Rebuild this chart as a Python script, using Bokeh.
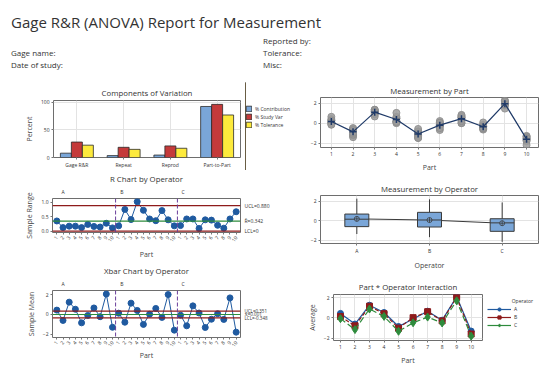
import numpy as np
from bokeh.plotting import figure
from bokeh.layouts import column, row
from bokeh.models import Div, Range1d, FixedTicker, LinearAxis, Legend, LegendItem, Span
from bokeh.embed import file_html
from bokeh.resources import INLINE

FONT = "Open Sans"
TXT = "#333333"

# ---------------- data ----------------
parts = [1, 2, 3, 4, 5, 6, 7, 8, 9, 10]
operators = ["A", "B", "C"]

A_trial1 = [0.29, -0.56, 1.34, 0.47, -0.80, 0.02, 0.59, -0.31, 2.26, -1.36]
A_trial2 = [0.41, -0.68, 1.17, 0.50, -0.92, -0.11, 0.75, -0.20, 1.99, -1.25]
A_trial3 = [0.64, -0.58, 1.27, 0.64, -0.84, -0.21, 0.66, -0.17, 2.01, -1.31]
B_trial1 = [0.08, -0.47, 1.19, 0.01, -0.56, -0.20, 0.47, -0.63, 1.80, -1.68]
B_trial2 = [0.25, -1.22, 0.94, 1.03, -1.20, 0.22, 0.55, 0.08, 2.12, -1.62]
B_trial3 = [0.07, -0.68, 1.34, 0.20, -1.28, 0.06, 0.83, -0.34, 2.19, -1.50]
C_trial1 = [0.04, -1.38, 0.88, 0.14, -1.46, -0.29, 0.02, -0.46, 1.77, -1.49]
C_trial2 = [-0.11, -1.13, 1.09, 0.20, -1.07, -0.67, 0.01, -0.56, 1.45, -1.77]
C_trial3 = [-0.15, -0.96, 0.67, 0.11, -1.45, -0.49, 0.21, -0.49, 1.87, -2.16]

components = ["Gage R&R", "Repeat", "Reprod", "Part-to-Part"]
pct_contribution = [7.8, 3.4, 4.4, 92.2]
pct_study_var = [27.9, 18.4, 20.9, 96.0]
pct_tolerance = [22.3, 14.7, 16.7, 76.8]

r_ucl, r_bar, r_lcl = 0.880, 0.342, 0.0
x_ucl, x_dbar, x_lcl = 0.351, 0.001, -0.348

meas = {"A": [A_trial1, A_trial2, A_trial3],
        "B": [B_trial1, B_trial2, B_trial3],
        "C": [C_trial1, C_trial2, C_trial3]}

# ---------------- colours ----------------
BLUE = "#7aa6d8"
RED = "#c43a3a"
YEL = "#fdea3c"
PT = "#1f5aa0"
LIMRED = "#8e1b1b"
CGREEN = "#2e8b3c"
PURP = "#6a3d9a"
GRID = "#e3e3e3"


def mkfig(w, h, l, r, t, b, xr, yr, title, standoff=3):
    p = figure(width=w, height=h, min_border_left=l, min_border_right=r,
               min_border_top=t, min_border_bottom=b, x_range=xr, y_range=yr,
               toolbar_location=None, output_backend="svg", title=title,
               frame_align=False)
    p.title.text_font = FONT
    p.title.text_font_size = "7.8px"
    p.title.text_font_style = "normal"
    p.title.text_color = TXT
    p.title.align = "center"
    p.title.standoff = standoff
    p.outline_line_color = "#6e6e6e"
    p.outline_line_width = 1
    p.grid.grid_line_color = GRID
    p.background_fill_color = "white"
    p.border_fill_color = "white"
    return p


def legend_fig(w, h):
    f = figure(width=w, height=h, min_border=0, x_range=Range1d(0, 1), y_range=Range1d(0, 1),
               toolbar_location=None, output_backend="svg", x_axis_type=None, y_axis_type=None,
               frame_align=False)
    f.outline_line_color = None
    f.background_fill_color = "white"
    f.border_fill_color = "white"
    return f


def style_axes(p):
    for ax in p.axis:
        ax.axis_line_color = None
        ax.major_tick_line_color = "#777777"
        ax.major_tick_out = 2
        ax.major_tick_in = 0
        ax.minor_tick_line_color = None
        ax.major_label_text_font = FONT
        ax.major_label_text_font_size = "5px"
        ax.major_label_text_color = TXT
        ax.major_label_standoff = 2
        ax.axis_label_text_font = FONT
        ax.axis_label_text_font_size = "7px"
        ax.axis_label_text_font_style = "normal"
        ax.axis_label_text_color = "#444444"
        ax.axis_label_standoff = 4


# ---------------- header ----------------
header = Div(width=551, height=72, text=f"""
<div style="position:relative;width:551px;height:72px;font-family:'{FONT}';color:#333;">
<div style="position:absolute;left:6px;top:8px;font-size:15px;line-height:18px;white-space:nowrap;">Gage R&amp;R (ANOVA) Report for Measurement</div>
<div style="position:absolute;left:258px;top:30px;font-size:8px;line-height:11px;">Reported by:</div>
<div style="position:absolute;left:6px;top:42px;font-size:8px;line-height:11px;">Gage name:</div>
<div style="position:absolute;left:258px;top:42px;font-size:8px;line-height:11px;">Tolerance:</div>
<div style="position:absolute;left:6px;top:54px;font-size:8px;line-height:11px;">Date of study:</div>
<div style="position:absolute;left:258px;top:54px;font-size:8px;line-height:11px;">Misc:</div>
</div>""")

# ---------------- derived per-operator stats ----------------
op_ranges = []
op_means = []
for op in operators:
    arr = np.array(meas[op])
    op_ranges.append(arr.max(axis=0) - arr.min(axis=0))
    op_means.append(arr.mean(axis=0))
samples = list(range(1, 31))
sample_labels = {s: str(parts[(s - 1) % 10]) for s in samples}

# ---------------- 1. Components of Variation ----------------
p1 = mkfig(245, 88, 53, 5, 18, 13, Range1d(0.5, 4.5), Range1d(0, 103), "Components of Variation", standoff=5)
gx = np.arange(1, len(components) + 1)
bw = 0.235
p1.vbar(x=gx - bw, top=pct_contribution, width=bw, fill_color=BLUE, line_color="#2a2a2a", line_width=0.8)
p1.vbar(x=gx, top=pct_study_var, width=bw, fill_color=RED, line_color="#2a2a2a", line_width=0.8)
p1.vbar(x=gx + bw, top=pct_tolerance, width=bw, fill_color=YEL, line_color="#2a2a2a", line_width=0.8)
p1.xaxis.ticker = FixedTicker(ticks=list(gx))
p1.xaxis.major_label_overrides = {int(i): c for i, c in zip(gx, components)}
p1.yaxis.ticker = FixedTicker(ticks=[0, 50, 100])
p1.yaxis.axis_label = "Percent"
style_axes(p1)

lf1 = legend_fig(55, 88)
rc = lf1.vbar(x=[-5], top=[1], width=0.1, fill_color=BLUE, line_color="#2a2a2a", line_width=0.8)
rs = lf1.vbar(x=[-5], top=[1], width=0.1, fill_color=RED, line_color="#2a2a2a", line_width=0.8)
rt = lf1.vbar(x=[-5], top=[1], width=0.1, fill_color=YEL, line_color="#2a2a2a", line_width=0.8)
leg1 = Legend(items=[LegendItem(label="% Contribution", renderers=[rc]),
                     LegendItem(label="% Study Var", renderers=[rs]),
                     LegendItem(label="% Tolerance", renderers=[rt])],
              location=(0, 42), label_text_font=FONT, label_text_font_size="5px",
              label_text_color=TXT, glyph_width=7, glyph_height=7, spacing=1,
              padding=0, margin=0, border_line_color=None, label_standoff=3,
              label_height=7, background_fill_alpha=0)
lf1.add_layout(leg1)

# ---------------- 2. R chart ----------------
p2 = mkfig(300, 92, 52, 60, 27, 27, Range1d(0.3, 30.7), Range1d(-0.05, 1.13), "R Chart by Operator")
for i, op in enumerate(operators):
    xs = samples[10 * i:10 * (i + 1)]
    p2.line(xs, op_ranges[i], color=PT, line_width=1)
    p2.scatter(xs, op_ranges[i], size=6, color=PT)
p2.add_layout(Span(location=r_ucl, dimension="width", line_color=LIMRED, line_width=1.2))
p2.add_layout(Span(location=r_bar, dimension="width", line_color=CGREEN, line_width=1.2))
p2.add_layout(Span(location=r_lcl, dimension="width", line_color=LIMRED, line_width=1.2))
for loc in [10.5, 20.5]:
    p2.add_layout(Span(location=loc, dimension="height", line_color=PURP, line_width=1, line_dash="4 2"))
p2.xaxis.ticker = FixedTicker(ticks=samples)
p2.xaxis.major_label_overrides = sample_labels
p2.xaxis.major_label_orientation = 0.9
p2.xaxis.axis_label = "Part"
p2.yaxis.ticker = FixedTicker(ticks=[0, 0.5, 1])
p2.yaxis.major_label_overrides = {0: "0.0", 0.5: "0.5", 1: "1.0"}
p2.yaxis.axis_label = "Sample Range"
p2.xgrid.visible = False
p2.ygrid.visible = False
op_ax2 = LinearAxis(ticker=FixedTicker(ticks=[2, 11.5, 21.4]),
                    major_label_overrides={2: "A", 11.5: "B", 21.4: "C"})
p2.add_layout(op_ax2, "above")
lim_ax2 = LinearAxis(ticker=FixedTicker(ticks=[r_ucl, r_bar, r_lcl]),
                     major_label_overrides={r_ucl: "UCL=0.880", r_bar: "R\u0304=0.342", 0: "LCL=0"})
p2.add_layout(lim_ax2, "right")
style_axes(p2)
for ax in (op_ax2, lim_ax2):
    ax.major_tick_line_color = None
    ax.major_label_text_font_size = "5px"

# ---------------- 3. Xbar chart ----------------
p3 = mkfig(300, 102, 52, 60, 27, 27, Range1d(0.3, 30.7), Range1d(-2.35, 2.45), "Xbar Chart by Operator")
for i, op in enumerate(operators):
    xs = samples[10 * i:10 * (i + 1)]
    p3.line(xs, op_means[i], color=PT, line_width=1)
    p3.scatter(xs, op_means[i], size=6, color=PT)
p3.add_layout(Span(location=x_ucl, dimension="width", line_color=LIMRED, line_width=1.2))
p3.add_layout(Span(location=x_dbar, dimension="width", line_color=CGREEN, line_width=1.2))
p3.add_layout(Span(location=x_lcl, dimension="width", line_color=LIMRED, line_width=1.2))
for loc in [10.5, 20.5]:
    p3.add_layout(Span(location=loc, dimension="height", line_color=PURP, line_width=1, line_dash="4 2"))
p3.xaxis.ticker = FixedTicker(ticks=samples)
p3.xaxis.major_label_overrides = sample_labels
p3.xaxis.major_label_orientation = 0.9
p3.xaxis.axis_label = "Part"
p3.yaxis.ticker = FixedTicker(ticks=[-2, 0, 2])
p3.yaxis.axis_label = "Sample Mean"
p3.xgrid.visible = False
p3.ygrid.visible = False
op_ax3 = LinearAxis(ticker=FixedTicker(ticks=[2, 11.5, 21.4]),
                    major_label_overrides={2: "A", 11.5: "B", 21.4: "C"})
p3.add_layout(op_ax3, "above")
lim_ax3 = LinearAxis(ticker=FixedTicker(ticks=[x_ucl, x_dbar, x_lcl]),
                     major_label_overrides={x_ucl: "UCL=0.351", x_dbar: "X\u033f=0.001", x_lcl: "LCL=-0.348"})
p3.add_layout(lim_ax3, "right")
style_axes(p3)
p3.xaxis.axis_label_standoff = 0
for ax in (op_ax3, lim_ax3):
    ax.major_tick_line_color = None
    ax.major_label_text_font_size = "5px"
lim_ax3.major_label_text_font_size = "4.5px"

# ---------------- 4. Measurement by Part ----------------
p4 = mkfig(251, 92, 20, 13, 15, 22, Range1d(0.5, 10.55), Range1d(-2.4, 2.55), "Measurement by Part", standoff=3)
all_x, all_y = [], []
for op in operators:
    for trial in meas[op]:
        all_x += parts
        all_y += trial
p4.scatter(all_x, all_y, size=7, fill_color="#9b9b9b", line_color="#8c8c8c", alpha=0.85)
part_means = np.mean([np.array(t) for op in operators for t in meas[op]], axis=0)
p4.line(parts, part_means, color="#1f3a68", line_width=1.2)
p4.scatter(parts, part_means, marker="cross", size=7, line_color="#1f3a68", line_width=1.5)
p4.xaxis.ticker = FixedTicker(ticks=parts)
p4.xaxis.axis_label = "Part"
p4.yaxis.ticker = FixedTicker(ticks=[-2, 0, 2])
style_axes(p4)


# ---------------- 5. Measurement by Operator ----------------
def mtb_quantile(vals, q):
    s = sorted(vals)
    pos = (len(s) + 1) * q
    k = int(pos)
    f = pos - k
    return s[k - 1] + f * (s[k] - s[k - 1])


p5 = mkfig(251, 98, 20, 13, 21, 23, Range1d(0.5, 3.5), Range1d(-2.33, 2.58), "Measurement by Operator", standoff=4)
pos = np.arange(1, 4)
q1s, meds, q3s, los, his, mns = [], [], [], [], [], []
for op in operators:
    v = [x for t in meas[op] for x in t]
    q1, md, q3 = mtb_quantile(v, 0.25), mtb_quantile(v, 0.5), mtb_quantile(v, 0.75)
    iqr = q3 - q1
    q1s.append(q1); meds.append(md); q3s.append(q3)
    his.append(max(x for x in v if x <= q3 + 1.5 * iqr))
    los.append(min(x for x in v if x >= q1 - 1.5 * iqr))
    mns.append(float(np.mean(v)))
hb = 0.165
p5.line(pos, mns, color="#3a3a3a", line_width=1)
p5.segment(pos, q3s, pos, his, color="#3a3a3a", line_width=1)
p5.segment(pos, q1s, pos, los, color="#3a3a3a", line_width=1)
p5.quad(left=pos - hb, right=pos + hb, bottom=q1s, top=q3s, fill_color=BLUE, line_color="#3a3a3a", line_width=1)
p5.segment(pos - hb, meds, pos + hb, meds, color="#3a3a3a", line_width=1)
p5.scatter(pos, mns, marker="circle_cross", size=5, fill_color=BLUE, line_color="#3a3a3a", line_width=0.8)
p5.xaxis.ticker = FixedTicker(ticks=list(pos))
p5.xaxis.major_label_overrides = {1: "A", 2: "B", 3: "C"}
p5.xaxis.axis_label = "Operator"
p5.yaxis.ticker = FixedTicker(ticks=[-2, 0, 2])
style_axes(p5)

# ---------------- 6. Part * Operator Interaction ----------------
p6 = mkfig(183, 95, 33, 1, 22, 19, Range1d(0.52, 10.78), Range1d(-2.24, 2.32), "Part * Operator Interaction", standoff=5)
op_colors = [PT, LIMRED, CGREEN]
op_markers = ["circle", "square", "diamond"]
op_dash = ["solid", "4 2", "6 3"]
op_sizes = [6, 6, 8]
for i, op in enumerate(operators):
    p6.line(parts, op_means[i], color=op_colors[i], line_width=1.2, line_dash=op_dash[i])
    p6.scatter(parts, op_means[i], marker=op_markers[i], size=op_sizes[i], color=op_colors[i])
p6.xaxis.ticker = FixedTicker(ticks=parts)
p6.xaxis.axis_label = "Part"
p6.yaxis.ticker = FixedTicker(ticks=[-2, 0, 2])
p6.yaxis.axis_label = "Average"
style_axes(p6)

lf6 = legend_fig(68, 95)
items = []
for i, op in enumerate(operators):
    ln = lf6.line(x=[-5, -4], y=[0, 0], color=op_colors[i], line_width=1.2)
    mk = lf6.scatter(x=[-5], y=[0], marker=op_markers[i], size=op_sizes[i], color=op_colors[i])
    items.append(LegendItem(label=op, renderers=[ln, mk]))
leg6 = Legend(items=items, location=(4, 38), title="\u00a0" * 19 + "Operator", title_text_font=FONT,
              title_text_font_size="5px", title_text_color=TXT, title_text_font_style="normal",
              title_standoff=1,
              label_text_font=FONT, label_text_font_size="5px", label_text_color=TXT,
              glyph_width=24, glyph_height=8, spacing=0, padding=0, margin=0,
              border_line_color=None, label_standoff=3, label_height=8, background_fill_alpha=0)
lf6.add_layout(leg6)

left_col = column(row(p1, lf1), p2, p3)
right_col = column(p4, p5, row(p6, lf6))
layout = column(header, row(left_col, right_col))
open("out.html", "w").write(file_html(layout, INLINE))
